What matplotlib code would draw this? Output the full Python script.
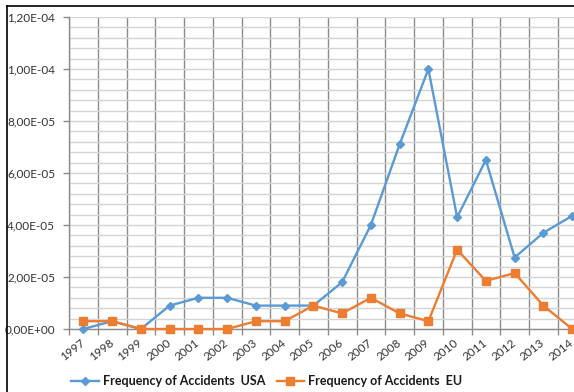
import numpy as np
import matplotlib
matplotlib.use("Agg")
import matplotlib.pyplot as plt
from matplotlib.lines import Line2D
from matplotlib.ticker import FuncFormatter

plt.rcParams['font.family'] = ['Lato', 'DejaVu Sans']

years = ['1997', '1998', '1999', '2000', '2001', '2002', '2003', '2004', '2005',
         '2006', '2007', '2008', '2009', '2010', '2011', '2012', '2013', '2014']
usa = [0.0, 3.0e-6, 0.0, 9.0e-6, 1.2e-5, 1.2e-5, 9.0e-6, 9.0e-6, 9.0e-6,
       1.8e-5, 4.0e-5, 7.1e-5, 1.0e-4, 4.3e-5, 6.5e-5, 2.75e-5, 3.7e-5, 4.35e-5]
eu = [3.0e-6, 3.0e-6, 0.0, 0.0, 0.0, 0.0, 3.0e-6, 3.0e-6, 9.0e-6,
      6.0e-6, 1.2e-5, 6.0e-6, 3.0e-6, 3.05e-5, 1.85e-5, 2.15e-5, 9.0e-6, 0.0]
series_names = ['Frequency of Accidents  USA', 'Frequency of Accidents  EU']

W, H = 574, 392
fig = plt.figure(figsize=(W / 100, H / 100), dpi=100)
fig.patch.set_facecolor('white')

# plot area is cut off by the right edge of the canvas
x0, y_top, y_bot = 69, 17, 329
cat_w = 28.75
ax = fig.add_axes([x0 / W, 1 - y_bot / H, (W - x0) / W, (y_bot - y_top) / H])

x = np.arange(len(years))
ax.plot(x, usa, color='#5B9BD5', lw=1.7, marker='D', markersize=4.5,
        clip_on=False, zorder=3, label=series_names[0])
ax.plot(x, eu, color='#ED7D31', lw=1.7, marker='s', markersize=5.5,
        clip_on=False, zorder=4, label=series_names[1])

ax.set_xlim(-0.5, -0.5 + (W - x0) / cat_w)
ax.set_ylim(0, 1.2e-4)

# y axis: major every 2E-05, minor every 4E-06
ax.set_yticks(np.arange(0, 1.21e-4, 2e-5))
ax.set_yticks(np.arange(0, 1.2e-4, 4e-6), minor=True)
ax.yaxis.set_major_formatter(FuncFormatter(lambda v, p: f"{v:.2E}".replace('.', ',')))
ax.tick_params(axis='y', which='major', length=4, width=1, color='#8c8c8c',
               labelsize=8.5, labelcolor='#333333', pad=6)
ax.tick_params(axis='y', which='minor', length=0)

# x axis: category labels at centres, tick marks and grid at boundaries
ax.set_xticks(x)
ax.set_xticklabels(years, rotation=38, ha='right', va='center',
                   rotation_mode='anchor')
ax.set_xticks(np.arange(-0.5, len(years) - 0.5, 1.0), minor=True)
ax.tick_params(axis='x', which='major', length=0, labelsize=8.5,
               labelcolor='#333333', pad=9)
ax.tick_params(axis='x', which='minor', length=4, width=1, color='#8c8c8c')

ax.grid(which='both', axis='y', color='#d4d4d4', lw=1.0)
ax.grid(which='minor', axis='x', color='#8c8c8c', lw=1.0)
ax.grid(which='major', axis='x', visible=False)
ax.set_axisbelow(True)

for s in ('top', 'right'):
    ax.spines[s].set_visible(False)
for s in ('left', 'bottom'):
    ax.spines[s].set_color('#8c8c8c')
    ax.spines[s].set_linewidth(1.0)

leg = fig.legend(loc='center left', bbox_to_anchor=(71 / W, 1 - 381 / H),
                 ncol=2, frameon=False, fontsize=9, handlelength=2.2,
                 handletextpad=0.35, columnspacing=0.9, borderpad=0,
                 borderaxespad=0)
for t in leg.get_texts():
    t.set_fontweight('bold')
    t.set_color('#1a1a1a')

# chart border (left and top edges)
bx, by = 6.5 / W, 1 - 5.5 / H
fig.add_artist(Line2D([bx, bx], [0, by], transform=fig.transFigure,
                      color='black', lw=1.2))
fig.add_artist(Line2D([bx, 1], [by, by], transform=fig.transFigure,
                      color='black', lw=1.2))

fig.savefig('out.png', dpi=100)
